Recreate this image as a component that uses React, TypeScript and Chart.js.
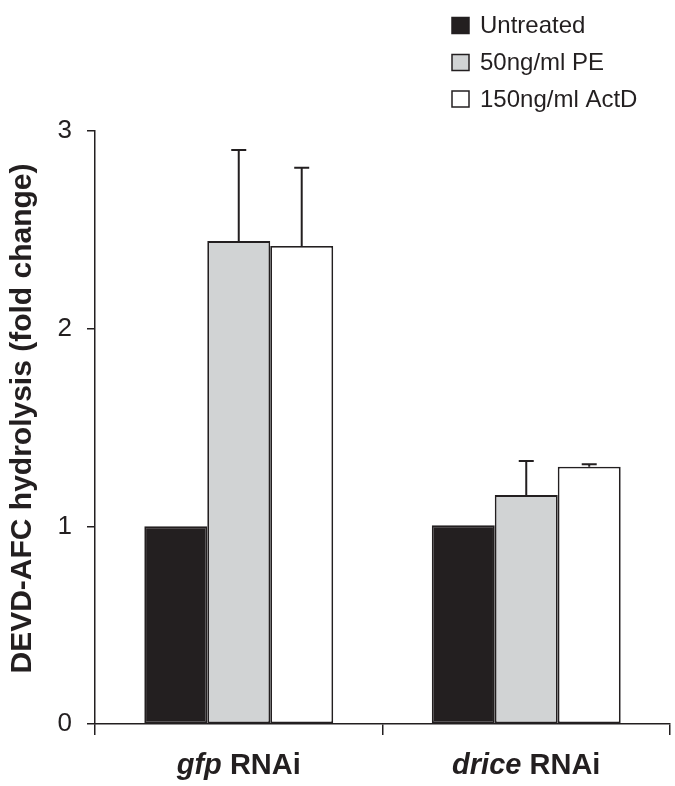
import React, { useEffect, useRef } from "react";
import { Chart, registerables } from "chart.js";

Chart.register(...registerables);

// ---- data ----
const categoryItalic = ["gfp", "drice"];
const categorySuffix = " RNAi";
const seriesNames = ["Untreated", "50ng/ml PE", "150ng/ml ActD"];
const untreated = [1.0, 1.005];
const pe = [2.443, 1.158];
const actd = [2.418, 1.302];
const untreatedErr = [0, 0];
const peErr = [0.461, 0.172];
const actdErr = [0.396, 0.012];
const yMin = 0;
const yMax = 3;
const yStep = 1;
const yTitle = "DEVD-AFC hydrolysis (fold change)";

const INK = "#231f20";
const seriesColors = ["#231f20", "#d1d3d4", "#ffffff"];
const FONT = "'Liberation Sans', Arial, Helvetica, sans-serif";

const values = [untreated, pe, actd];
const errors = [untreatedErr, peErr, actdErr];

const decorPlugin = {
  id: "decor",
  afterDatasetsDraw(chart: any) {
    const ctx = chart.ctx;
    const yScale = chart.scales.y;
    ctx.save();
    ctx.strokeStyle = INK;
    ctx.lineWidth = 2;
    chart.data.datasets.forEach((ds: any, i: number) => {
      const meta = chart.getDatasetMeta(i);
      meta.data.forEach((el: any, j: number) => {
        const err = errors[i][j];
        if (!err) return;
        const top = yScale.getPixelForValue(values[i][j] + err);
        const x = el.x;
        ctx.beginPath();
        ctx.moveTo(x, el.y);
        ctx.lineTo(x, top);
        ctx.moveTo(x - 7.5, top);
        ctx.lineTo(x + 7.5, top);
        ctx.stroke();
      });
    });
    ctx.restore();
  },
  afterDraw(chart: any) {
    const ctx = chart.ctx;
    const xScale = chart.scales.x;
    const area = chart.chartArea;
    ctx.save();
    ctx.fillStyle = INK;
    // x category labels
    categoryItalic.forEach((it, i) => {
      const cx = xScale.getPixelForValue(i);
      const fItal = `italic bold 29px ${FONT}`;
      const fBold = `bold 29px ${FONT}`;
      ctx.font = fItal;
      const w1 = ctx.measureText(it).width;
      ctx.font = fBold;
      const w2 = ctx.measureText(categorySuffix).width;
      const start = cx - (w1 + w2) / 2;
      ctx.textBaseline = "alphabetic";
      ctx.textAlign = "left";
      ctx.font = fItal;
      ctx.fillText(it, start, 774);
      ctx.font = fBold;
      ctx.fillText(categorySuffix, start + w1, 774);
    });
    // y title
    ctx.save();
    ctx.translate(31, (area.top + area.bottom) / 2 - 9);
    ctx.rotate(-Math.PI / 2);
    ctx.font = `bold 30px ${FONT}`;
    ctx.textAlign = "center";
    ctx.textBaseline = "alphabetic";
    ctx.fillText(yTitle, 0, 0);
    ctx.restore();
    // legend
    const rowY = [25.5, 62.5, 99];
    seriesNames.forEach((name, i) => {
      ctx.fillStyle = seriesColors[i];
      ctx.fillRect(452, rowY[i] - 8, 17, 16);
      ctx.strokeStyle = INK;
      ctx.lineWidth = 1.5;
      ctx.strokeRect(452, rowY[i] - 8, 17, 16);
      ctx.fillStyle = INK;
      ctx.font = `24px ${FONT}`;
      ctx.textAlign = "left";
      ctx.textBaseline = "middle";
      ctx.fillText(name, 480, rowY[i] + 1);
    });
    ctx.restore();
  },
};

export default function App() {
  const ref = useRef<HTMLCanvasElement | null>(null);
  useEffect(() => {
    if (!ref.current) return;
    const chart = new Chart(ref.current, {
      type: "bar",
      data: {
        labels: categoryItalic.map((c) => c + categorySuffix),
        datasets: seriesNames.map((name, i) => ({
          label: name,
          data: values[i],
          backgroundColor: seriesColors[i],
          borderColor: INK,
          borderWidth: 1.8,
          borderSkipped: false,
          categoryPercentage: 0.657,
          barPercentage: 1.0,
        })),
      },
      options: {
        responsive: false,
        animation: false,
        layout: { padding: { top: 131, right: 5, left: 0, bottom: 0 } },
        plugins: {
          legend: { display: false },
          tooltip: { enabled: false },
          title: { display: false },
        },
        scales: {
          x: {
            afterFit: (s: any) => {
              s.height = 62;
            },
            grid: {
              offset: true,
              drawOnChartArea: false,
              drawTicks: true,
              tickLength: 11,
              color: INK,
              lineWidth: 1.5,
            },
            border: { display: true, color: INK, width: 1.5 },
            ticks: { display: false },
          },
          y: {
            min: yMin,
            max: yMax,
            afterFit: (s: any) => {
              s.width = 95;
            },
            grid: {
              drawOnChartArea: false,
              drawTicks: true,
              tickLength: 8,
              color: INK,
              lineWidth: 1.5,
            },
            border: { display: true, color: INK, width: 1.5 },
            ticks: {
              stepSize: yStep,
              padding: 15,
              color: INK,
              font: { family: FONT, size: 26 },
            },
          },
        },
      },
      plugins: [decorPlugin],
    });
    return () => chart.destroy();
  }, []);
  return (
    <div style={{ position: "absolute", left: 0, top: 0, width: 675, height: 786, background: "#fff" }}>
      <canvas ref={ref} width={675} height={786} style={{ display: "block" }} />
    </div>
  );
}
